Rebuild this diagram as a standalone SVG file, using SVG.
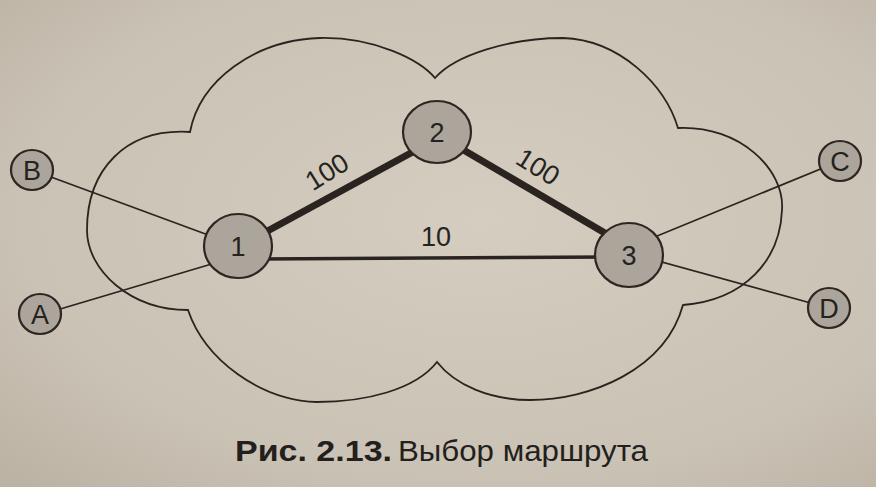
<svg xmlns="http://www.w3.org/2000/svg" width="876" height="487" viewBox="0 0 876 487">
<defs>
<radialGradient id="paper" cx="0.55" cy="0.45" r="0.75">
<stop offset="0" stop-color="#d4cdc0"/>
<stop offset="0.7" stop-color="#cac2b4"/>
<stop offset="1" stop-color="#bcb3a5"/>
</radialGradient>
<style>
.cloud{fill:none;stroke:#2a2420;stroke-width:1.8}
.thin{stroke:#2a2420;stroke-width:1.7;fill:none}
.thick{stroke:#2a2420;stroke-width:7;fill:none}
.mid{stroke:#2a2420;stroke-width:3.5;fill:none}
.node{fill:#aba59b;stroke:#2e2622;stroke-width:2.2}
.lbl{font-family:"Liberation Sans",Arial,sans-serif;font-size:27px;fill:#262220;text-anchor:middle;dominant-baseline:central}
.cap{font-family:"Liberation Sans",Arial,sans-serif;font-size:29px;fill:#231f1c}
</style>
</defs>
<rect width="876" height="487" fill="url(#paper)"/>
<g id="cloud">
<path class="cloud" d="M190,132 C200,80 255,40 320,38 C375,37 420,60 435,78 C455,55 510,38 563,38 C620,40 665,85 678,128 C740,125 785,170 782,210 C780,260 745,300 683,305 C665,370 590,400 530,400 C490,400 455,385 437,362 C415,390 365,402 317,402 C260,400 205,360 188,310 C130,310 87,270 87,230 C87,170 125,128 190,132 Z"/>
</g>
<g id="connectors">
<line class="thin" x1="32" y1="170" x2="238" y2="246"/>
<line class="thin" x1="40" y1="315" x2="215" y2="263"/>
<line class="thin" x1="840" y1="161" x2="640" y2="243"/>
<line class="thin" x1="829" y1="308" x2="629" y2="253"/>
<line class="thick" x1="262" y1="234" x2="420" y2="148"/>
<line class="thick" x1="455" y1="145" x2="610" y2="236"/>
<line class="mid" x1="260" y1="259" x2="610" y2="257"/>
<text class="lbl" transform="translate(327,172) rotate(-32)">100</text>
<text class="lbl" transform="translate(538,167) rotate(32)">100</text>
<text class="lbl" x="436" y="237">10</text>
</g>
<g id="node-1"><ellipse class="node" cx="238" cy="246" rx="34" ry="32"/><text class="lbl" x="238" y="247">1</text></g>
<g id="node-2"><ellipse class="node" cx="437" cy="132" rx="34" ry="31"/><text class="lbl" x="437" y="133">2</text></g>
<g id="node-3"><ellipse class="node" cx="629" cy="255" rx="34" ry="32"/><text class="lbl" x="629" y="256">3</text></g>
<g id="node-B"><ellipse class="node" cx="32" cy="170" rx="21" ry="20"/><text class="lbl" x="32" y="171">B</text></g>
<g id="node-A"><ellipse class="node" cx="40" cy="314" rx="21" ry="20"/><text class="lbl" x="40" y="315">A</text></g>
<g id="node-C"><ellipse class="node" cx="840" cy="161" rx="21" ry="20"/><text class="lbl" x="840" y="162">C</text></g>
<g id="node-D"><ellipse class="node" cx="829" cy="308" rx="21" ry="20"/><text class="lbl" x="829" y="309">D</text></g>
<g id="caption">
<text class="cap" x="235" y="461" font-weight="bold" textLength="157" lengthAdjust="spacingAndGlyphs">Рис. 2.13.</text>
<text class="cap" x="398" y="461" textLength="250" lengthAdjust="spacingAndGlyphs">Выбор маршрута</text>
</g>
</svg>
